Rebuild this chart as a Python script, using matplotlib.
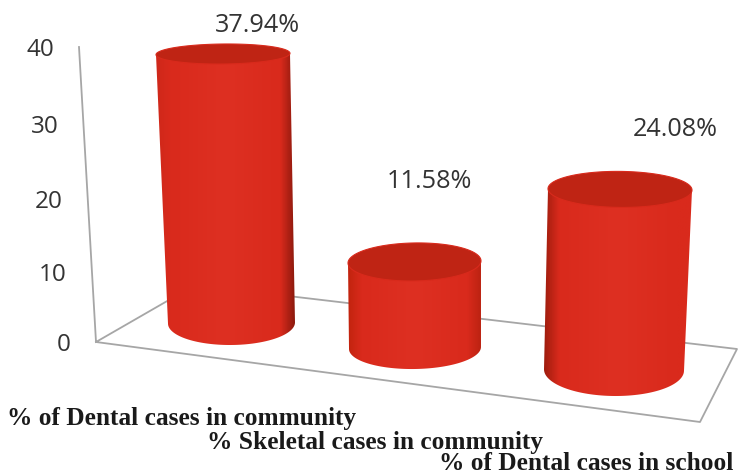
import numpy as np
import matplotlib
matplotlib.use('Agg')
import matplotlib.pyplot as plt
from matplotlib.colors import LinearSegmentedColormap
from matplotlib.path import Path
from matplotlib.patches import PathPatch

# data
categories = ['% of Dental cases in community', '% Skeletal cases in community', '% of Dental cases in school']
values = [37.94, 11.58, 24.08]
value_labels = ['37.94%', '11.58%', '24.08%']
ticks = [0, 10, 20, 30, 40]

# layout, in pixels of the picture
base_x = [231.5, 415, 614]
base_y = [323, 348, 370]
top_x = [223, 414.5, 620]
px_per_unit = [7.09, 7.43, 7.5]
base_rx = [63.5, 66, 70]
base_ry = [22, 21, 26]
top_rx = [67, 66.5, 72]
top_ry = [10, 19, 18]
tilt = [-0.6, -1, 0.6]
left_shade = ['#cf281a', '#c2240f', '#a01d0e']
right_shade = ['#8e1a0e', '#bd2312', '#d92a1c']
label_xy = [(257, 26), (429, 182), (675, 130)]
cat_xy = [(7, 418), (207, 442), (439, 463)]


def ellipse(cx, cy, rx, ry, ang, t):
    a = np.radians(ang)
    x = rx * np.cos(t)
    y = ry * np.sin(t)
    return cx + x * np.cos(a) - y * np.sin(a), cy + x * np.sin(a) + y * np.cos(a)


def tick_y(v):
    # the back wall is seen in perspective so the scale is a bit uneven
    return 345 - v * (6.9 + 0.012 * v)


fig = plt.figure(figsize=(7.38, 4.75), dpi=100)
ax = fig.add_axes([0, 0, 1, 1])
ax.set_xlim(0, 738)
ax.set_ylim(475, 0)
ax.axis('off')

# wall and floor
grey = '#a6a6a6'
ax.plot([79, 96, 700, 737, 195, 96], [47, 342, 422, 349, 285, 342], color=grey, lw=1.3, zorder=1)

for v in ticks:
    ax.text(71 - v * 0.425, tick_y(v), str(v), ha='right', va='center', family='Open Sans',
            fontsize=17.5, color='#333333')

for i in range(len(values)):
    ty = base_y[i] - values[i] * px_per_unit[i]
    t = np.linspace(0, np.pi, 80)
    bx, by = ellipse(base_x[i], base_y[i], base_rx[i], base_ry[i], tilt[i], t)
    tx, ty_arc = ellipse(top_x[i], ty, top_rx[i], top_ry[i], tilt[i], np.array([np.pi, 0]))
    xs = np.concatenate([[tx[0]], bx[::-1], [tx[1]], [tx[0]]])
    ys = np.concatenate([[ty_arc[0]], by[::-1], [ty_arc[1]], [ty_arc[0]]])
    body = PathPatch(Path(np.column_stack([xs, ys])), fc='none', ec='none', transform=ax.transData)
    ax.add_patch(body)

    cmap = LinearSegmentedColormap.from_list('c', [(0, left_shade[i]), (0.1, '#d92a1c'), (0.5, '#de3022'),
                                                   (0.9, '#d92a1c'), (1, right_shade[i])])
    x0 = min(xs)
    x1 = max(xs)
    im = ax.imshow(np.linspace(0, 1, 200).reshape(1, -1), cmap=cmap, aspect='auto',
                   extent=[x0, x1, max(ys) + 1, min(ys) - 1], zorder=3, interpolation='bilinear')
    im.set_clip_path(body)

    # top of the cylinder
    t = np.linspace(0, 2 * np.pi, 160)
    ex, ey = ellipse(top_x[i], ty, top_rx[i], top_ry[i], tilt[i], t)
    ax.fill(ex, ey, fc='#bf2414', ec='#d92a1c', lw=0.8, zorder=4)

    ax.text(label_xy[i][0], label_xy[i][1], value_labels[i], ha='center', va='center', family='Open Sans',
            fontsize=18.2, color='#333333')
    ax.text(cat_xy[i][0], cat_xy[i][1], categories[i], ha='left', va='center', family='Liberation Serif',
            fontweight='bold', fontsize=18.3, color='#1a1a1a')

ax.set_xlim(0, 738)
ax.set_ylim(475, 0)
fig.savefig('out.png', dpi=100)
